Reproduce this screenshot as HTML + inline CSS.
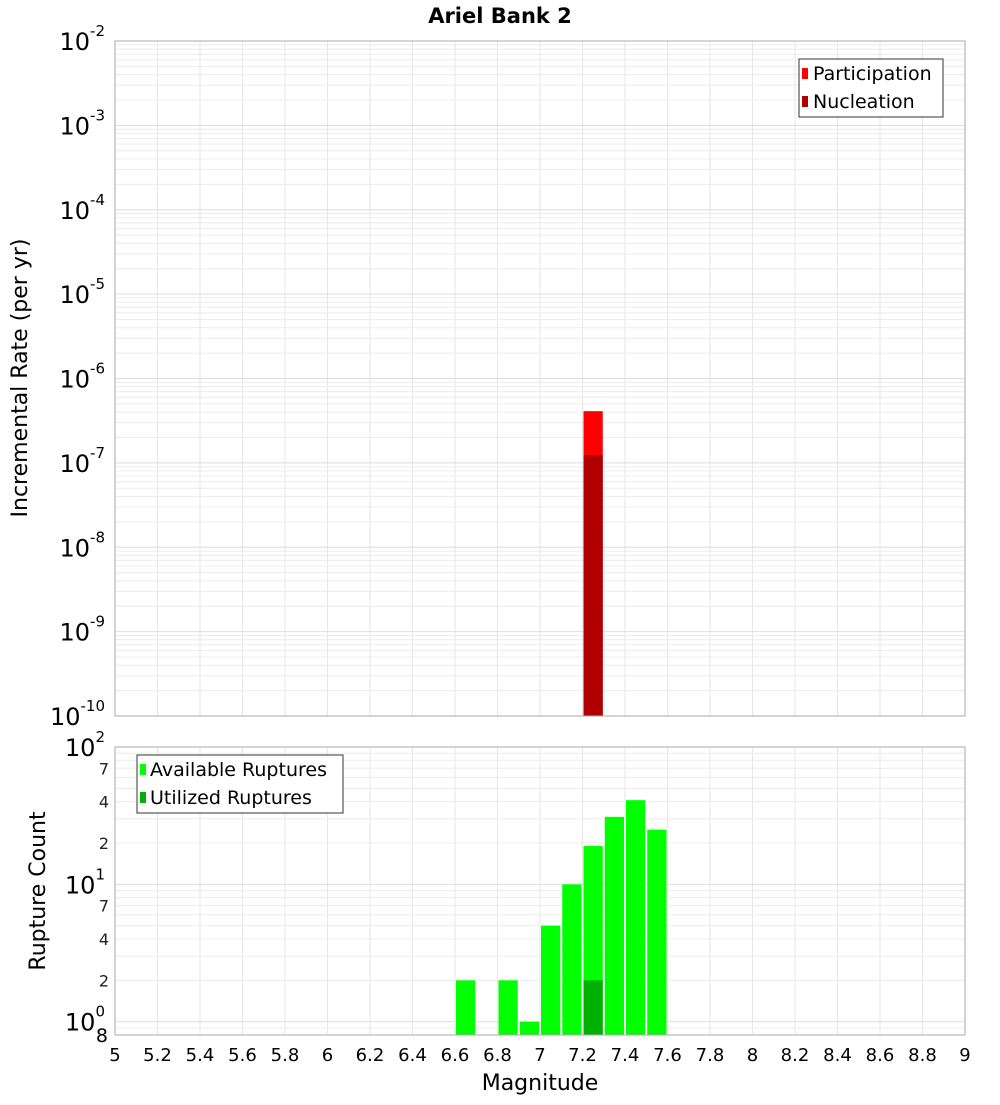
<!DOCTYPE html>
<html><head><meta charset="utf-8"><style>
body{margin:0;background:#fff;font-family:"Liberation Sans","DejaVu Sans",sans-serif}
svg text{font-family:"DejaVu Sans","Liberation Sans",sans-serif}
</style></head><body>
<svg id="c" width="1000" height="1100" xmlns="http://www.w3.org/2000/svg">
<text x="500" y="23" text-anchor="middle" font-size="21" font-weight="bold">Ariel Bank 2</text>
<g id="topPlot"></g>
<g id="botPlot"></g>
<text transform="translate(27,378) rotate(-90)" text-anchor="middle" font-size="22">Incremental Rate (per yr)</text>
<text transform="translate(45,891) rotate(-90)" text-anchor="middle" font-size="22">Rupture Count</text>
<text x="540" y="1090" text-anchor="middle" font-size="22">Magnitude</text>
<g>
<rect x="799" y="59" width="144" height="58" fill="#fff" stroke="#333"/>
<rect x="802" y="68" width="6" height="11" fill="#ff0000"/>
<text x="813" y="80" font-size="19">Participation</text>
<rect x="802" y="96" width="6" height="11" fill="#b00000"/>
<text x="813" y="108" font-size="19">Nucleation</text>
</g>
<g>
<rect x="137" y="755" width="206" height="58" fill="#fff" stroke="#333"/>
<rect x="140" y="764" width="6" height="11" fill="#00ff00"/>
<text x="150" y="776" font-size="19">Available Ruptures</text>
<rect x="140" y="792" width="6" height="11" fill="#00b000"/>
<text x="150" y="804" font-size="19">Utilized Ruptures</text>
</g>
</svg>
<script>
const binCenters=[6.65,6.85,6.95,7.05,7.15,7.25,7.35,7.45,7.55];
const availableCounts=[2,2,1,5,10,19,31,41,25];
const utilizedBins=[7.25];
const utilizedCounts=[2];
const rateBins=[7.25];
const participationRates=[4.1e-7];
const nucleationRates=[1.24e-7];
const xTicks=[5,5.2,5.4,5.6,5.8,6,6.2,6.4,6.6,6.8,7,7.2,7.4,7.6,7.8,8,8.2,8.4,8.6,8.8,9];
const topExps=[-10,-9,-8,-7,-6,-5,-4,-3,-2];
const botExps=[0,1,2];
const botMinor=[2,4,7];

const NS="http://www.w3.org/2000/svg";
const L=115,R=965,TT=41,TB=716,BT=747,BB=1035;
const xs=m=>L+(m-5)/4*(R-L);
const yt=v=>TB-(Math.log10(v)+10)/8*(TB-TT);
const yMin=Math.log10(0.8),yMax=2;
const yb=v=>BB-(Math.log10(v)-yMin)/(yMax-yMin)*(BB-BT);
function el(p,t,a){const e=document.createElementNS(NS,t);for(const k in a)e.setAttribute(k,a[k]);p.appendChild(e);return e;}
const topG=document.getElementById('topPlot'),botG=document.getElementById('botPlot');

function frame(g,y0,y1,yf,lo,hi){
  for(const t of xTicks){const l=el(g,'line',{x1:xs(t),x2:xs(t),y1:y0,y2:y1,stroke:'#e6e6e6'});
  
  }
  for(let e=lo;e<hi;e++)for(let k=1;k<10;k++){const v=k*Math.pow(10,e);const y=yf(v);if(y<y0-0.5||y>y1+0.5)continue;
    const l=el(g,'line',{x1:L,x2:R,y1:y,y2:y,stroke:k==1?'#dedede':'#ececec'});
    
    }
}
frame(topG,TT,TB,yt,-10,-1);
frame(botG,BT,BB,yb,-1,2);

function bar(g,c,v,yf,base,fill,name){const x0=xs(c-0.05)+1,x1=xs(c+0.05)-1;const y=yf(v);
  const r=el(g,'rect',{x:x0,y:y,width:x1-x0,height:base-y,fill:fill});
  
  }
rateBins.forEach((c,i)=>bar(topG,c,participationRates[i],yt,TB,'#ff0000','participation-bar'));
rateBins.forEach((c,i)=>bar(topG,c,nucleationRates[i],yt,TB,'#b00000','nucleation-bar'));
binCenters.forEach((c,i)=>bar(botG,c,availableCounts[i],yb,BB,'#00ff00','available-bar'));
utilizedBins.forEach((c,i)=>bar(botG,c,utilizedCounts[i],yb,BB,'#00b000','utilized-bar'));

el(topG,'rect',{x:L,y:TT,width:R-L,height:TB-TT,fill:'none',stroke:'#aaa'});
el(botG,'rect',{x:L,y:BT,width:R-L,height:BB-BT,fill:'none',stroke:'#aaa'});

function logLabel(g,y,e,name){const t=el(g,'text',{x:105,y:y+9,'text-anchor':'end','font-size':24});
  
  
  t.appendChild(document.createTextNode('10'));
  const s=el(t,'tspan',{dy:-14,'font-size':15});s.textContent=String(e);}
topExps.forEach(e=>logLabel(topG,yt(Math.pow(10,e)),e,'top-y-tick-label'));
botExps.forEach(e=>logLabel(botG,yb(Math.pow(10,e)),e,'bottom-y-tick-label'));
for(let e=0;e<2;e++)botMinor.forEach(k=>{const t=el(botG,'text',{x:109,y:yb(k*Math.pow(10,e))+6,'text-anchor':'end','font-size':16,fill:'#222'});
  
  
  t.textContent=String(k);});
const t8=el(botG,'text',{x:108,y:1042,'text-anchor':'end','font-size':19});


t8.textContent='8';
xTicks.forEach(t=>{const x=el(botG,'text',{x:xs(t),y:1061,'text-anchor':'middle','font-size':18});
  
  
  x.textContent=String(t);});
</script>
</body></html>
